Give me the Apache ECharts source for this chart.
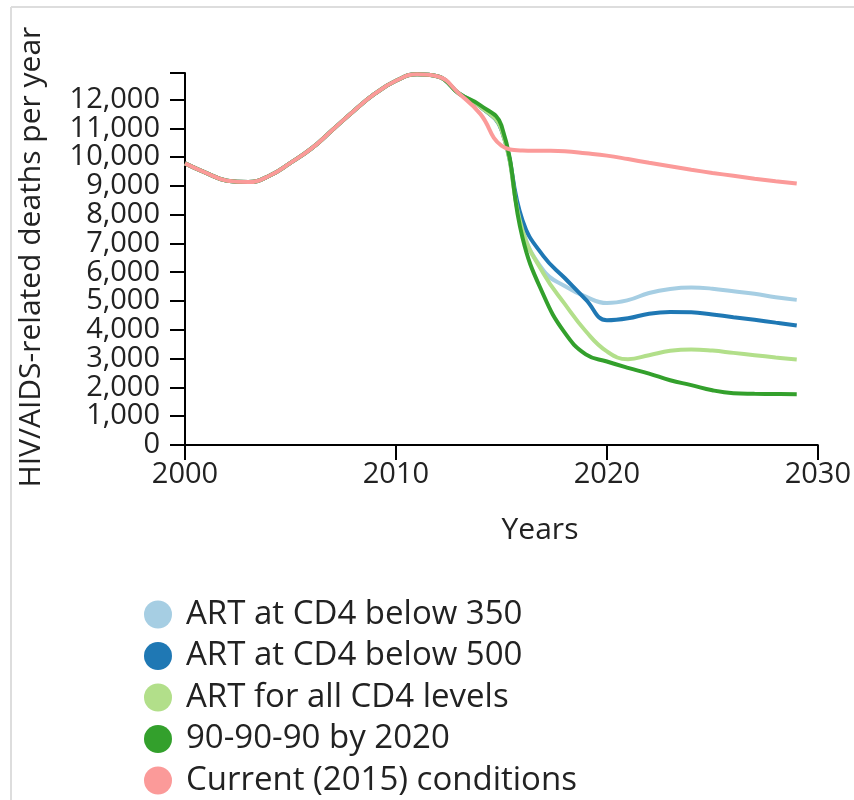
<!DOCTYPE html>
<html>
<head>
<meta charset="utf-8">
<script src="https://cdn.jsdelivr.net/npm/echarts@6/dist/echarts.min.js"></script>
<style>
html,body{margin:0;padding:0;background:#fff;}
#chart{width:854px;height:800px;}
</style>
</head>
<body>
<div id="chart"></div>
<script>
// ---- data ----
const years = [2000,2001,2002,2003,2004,2005,2006,2007,2008,2009,2010,2011,2012,2013,2014,2015,2016,2017,2018,2019,2020,2021,2022,2023,2024,2025,2026,2027,2028,2029];
const history = [9780,9450,9180,9130,9350,9800,10300,10950,11600,12200,12650,12880,12800,12200];
const art350 = [11750,10950,7500,6050,5520,5150,4930,5030,5280,5420,5470,5430,5340,5250,5130,5040];
const art500 = [11750,10950,7800,6550,5800,5050,4330,4400,4560,4620,4610,4530,4440,4350,4250,4150];
const artAll = [11750,10950,7450,5950,4900,3950,3250,2980,3120,3270,3320,3280,3200,3120,3040,2970];
const target909090 = [11800,11100,7200,5200,3900,3150,2900,2680,2480,2250,2080,1900,1800,1780,1770,1760];
const current2015 = [11500,10400,10230,10220,10200,10130,10050,9930,9800,9680,9560,9450,9350,9250,9160,9080];
const seriesNames = ['ART at CD4 below 350','ART at CD4 below 500','ART for all CD4 levels','90-90-90 by 2020','Current (2015) conditions'];
const seriesColors = ['#a6cee3','#1f78b4','#b2df8a','#33a02c','#fb9a99'];
const xTicks = [2000,2010,2020,2030];

const projections = [art350, art500, artAll, target909090, current2015];
function toPairs(proj){
  const vals = history.concat(proj);
  return years.map((y,i)=>[y, vals[i]]);
}
function fmt(v){ return String(v).replace(/\B(?=(\d{3})+(?!\d))/g, ','); }

const FONT = "'Open Sans', sans-serif";
const yLabelStyle = {margin:25,color:'#222',fontFamily:FONT,fontSize:29};
const chart = echarts.init(document.getElementById('chart'));
chart.setOption({
  animation:false,
  grid:{left:185,right:34,top:73,bottom:355,containLabel:false},
  xAxis:{
    type:'value', min:2000, max:2030, interval:10,
    axisLine:{show:true,onZero:false,lineStyle:{color:'#000',width:2}},
    axisTick:{show:true,length:15,lineStyle:{color:'#000',width:2}},
    splitLine:{show:false},
    axisLabel:{margin:15,color:'#222',fontFamily:FONT,fontSize:29,
      formatter:v=>xTicks.indexOf(v)>=0?String(v):''}
  },
  yAxis:[{
    type:'value', position:'left', min:0, max:12920, interval:1000,
    axisLine:{show:true,lineStyle:{color:'#000',width:2}},
    axisTick:{show:true,length:15,lineStyle:{color:'#000',width:2}},
    splitLine:{show:false},
    axisLabel:Object.assign({showMinLabel:false,formatter:v=>(v>0&&v%1000===0)?fmt(v):''}, yLabelStyle)
  },{
    type:'value', position:'left', offset:0, min:0, max:12920, interval:12000,
    axisLine:{show:false},
    axisTick:{show:true,length:15,lineStyle:{color:'#000',width:2}},
    splitLine:{show:false},
    axisLabel:Object.assign({formatter:v=>(v===0)?'0':''}, yLabelStyle)
  }],
  legend:{
    orient:'vertical', left:139, top:593, height:260, icon:'circle', padding:5,
    itemWidth:28, itemHeight:28, itemGap:8.5,
    textStyle:{fontFamily:FONT,fontSize:33,color:'#222',padding:[0,0,0,9]},
    data:seriesNames
  },
  graphic:[
    {type:'line',shape:{x1:11,y1:7,x2:854,y2:7},style:{stroke:'#ddd',lineWidth:2},silent:true},
    {type:'line',shape:{x1:11,y1:7,x2:11,y2:800},style:{stroke:'#ddd',lineWidth:2},silent:true},
    {type:'text',x:540,y:530,style:{text:'Years',font:"30px 'Open Sans', sans-serif",fill:'#222',textAlign:'center',textVerticalAlign:'middle'}},
    {type:'text',x:31,y:257,rotation:Math.PI/2,style:{text:'HIV/AIDS-related deaths per year',font:"30px 'Open Sans', sans-serif",fill:'#222',textAlign:'center',textVerticalAlign:'middle'}}
  ],
  series: projections.map((p,i)=>({
    name:seriesNames[i], type:'line', yAxisIndex:0, data:toPairs(p), smooth:0.45,
    showSymbol:false, symbol:'none', color:seriesColors[i],
    lineStyle:{width:4,color:seriesColors[i]}, z:2+i
  }))
});
</script>
</body>
</html>
